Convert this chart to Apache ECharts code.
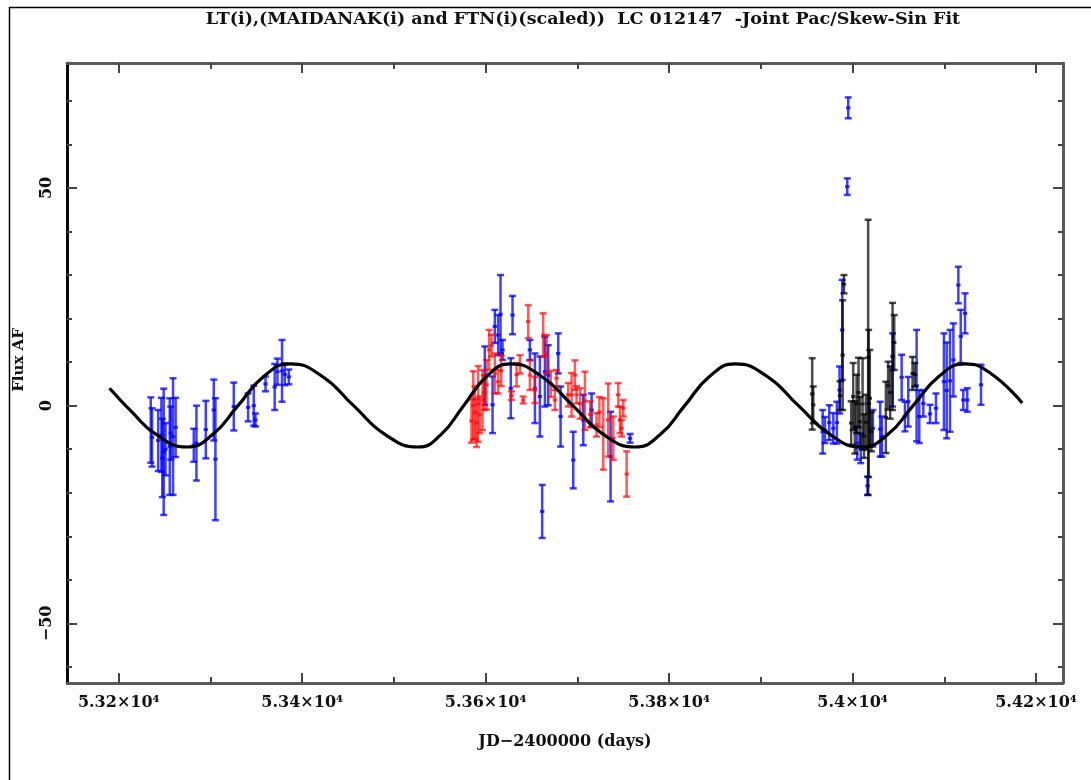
<!DOCTYPE html>
<html>
<head>
<meta charset="utf-8">
<script src="https://cdn.jsdelivr.net/npm/echarts@6/dist/echarts.min.js"></script>
<style>html,body{margin:0;padding:0;background:#fff}#c{width:1091px;height:780px}</style>
</head>
<body>
<div id="c"></div>
<script>
const titleText = 'LT(i),(MAIDANAK(i) and FTN(i)(scaled))  LC 012147  -Joint Pac/Skew-Sin Fit';
const xName = 'JD\u22122400000 (days)';
const yName = 'Flux AF';
const xMajorTicks = [53200, 53400, 53600, 53800, 54000, 54200];
const xMinorTicks = [53300, 53500, 53700, 53900, 54100];
const yMajorTicks = [-50, 0, 50];
const yMinorTicks = [-60, -40, -30, -20, -10, 10, 20, 30, 40, 60, 70];

// Fit curve [day, flux]
const fitDays = [53190, 53215, 53240, 53274, 53302, 53330, 53358, 53387, 53422, 53456, 53491, 53526,
  53551, 53576, 53601, 53627, 53661, 53695, 53729, 53763, 53790, 53817, 53844, 53872, 53907, 53941,
  53976, 54010, 54038, 54066, 54094, 54123, 54150, 54185];
const fitFlux = [4.0, -1.6, -6.5, -9.5, -6.7, 0.0, 6.7, 9.6, 6.7, 0.0, -6.7, -9.5,
  -6.7, 0.0, 6.7, 9.6, 6.7, 0.0, -6.7, -9.5, -6.7, 0.0, 6.7, 9.6, 6.7, 0.0,
  -6.7, -9.5, -6.7, 0.0, 6.7, 9.6, 7.5, 0.6];

// LT points [day, flux, error] (blue)
const ltPoints = [
  [53234.9, -5.6, 7.5], [53236.3, -7.3, 6.7], [53243.0, -8.0, 7.0], [53246.5, -6.7, 8.5],
  [53247.5, -12.0, 9.0], [53249.0, -10.6, 14.5], [53251.0, -10.0, 6.0], [53255.6, -9.4, 11.1],
  [53256.7, -6.3, 6.1], [53259.2, -7.1, 13.4], [53262.0, -5.0, 6.8], [53281.8, -9.1, 3.8],
  [53284.7, -8.6, 8.6], [53294.9, -5.5, 6.6], [53303.6, -1.0, 7.0], [53305.4, -12.3, 14.0],
  [53325.4, -0.2, 5.5], [53341.0, -0.4, 3.2], [53347.2, 0.0, 4.6], [53349.0, -3.3, 1.5],
  [53360.0, 5.0, 1.7], [53370.0, 4.3, 5.3], [53373.0, 7.8, 3.0], [53378.0, 8.0, 7.1],
  [53381.0, 7.2, 2.5], [53385.4, 6.6, 1.7],
  [53599.1, 6.9, 6.7], [53607.5, 0.2, 6.5], [53610.0, 18.2, 3.8], [53613.6, 16.2, 4.6],
  [53616.2, 21.0, 9.0], [53618.4, 12.8, 2.3], [53627.4, 4.0, 6.9], [53629.3, 20.8, 4.4],
  [53648.2, 12.8, 2.3], [53653.7, 4.0, 8.0], [53659.1, 2.1, 9.2], [53661.6, -24.3, 6.1],
  [53664.6, 7.8, 8.0], [53668.2, 7.0, 6.9], [53679.1, 12.0, 4.6], [53681.7, -2.5, 6.9],
  [53695.5, -12.5, 6.5], [53706.4, -3.3, 5.8], [53715.5, -1.0, 3.8], [53736.2, -11.7, 10.3],
  [53757.4, -7.5, 1.0],
  [53995.3, 68.4, 2.4], [53994.2, 50.3, 1.9],
  [53967.4, -6.0, 5.0], [53969.9, -5.6, 3.0], [53974.6, -3.9, 4.0], [53979.0, -5.2, 3.5],
  [53982.9, -3.9, 4.8], [53985.8, 3.6, 5.4], [53988.7, 17.4, 11.5], [54005.1, -8.6, 3.8],
  [54008.9, -9.8, 3.4], [54016.3, -18.4, 2.1], [54022.1, -5.2, 4.2], [54030.1, -5.4, 6.3],
  [54032.0, -7.1, 4.6], [54043.6, 8.2, 8.4], [54053.5, 6.5, 5.2], [54057.1, -2.5, 3.4],
  [54060.7, 0.9, 5.7], [54069.8, 4.6, 12.8], [54072.7, -2.5, 6.1], [54077.1, 0.5, 3.0],
  [54084.4, -1.9, 2.1], [54090.9, -0.6, 3.4], [54099.6, 5.5, 11.1], [54102.6, 3.5, 11.0],
  [54106.2, 5.7, 11.7], [54109.9, 10.5, 8.4], [54115.3, 27.7, 4.2], [54117.9, 15.9, 6.1],
  [54122.6, 21.2, 4.6], [54120.7, 1.3, 2.3], [54125.0, 1.3, 2.7], [54140.0, 4.8, 4.6]
];

// MAIDANAK points [day, flux, error] (red)
const maidanakPoints = [
  [53586.5, 0.0, 7.9], [53588.2, -1.6, 6.0], [53591.8, 0.4, 8.7], [53593.6, -2.1, 4.2],
  [53596.6, 1.3, 6.9], [53601.0, 4.8, 5.7], [53603.8, 12.8, 4.6], [53606.4, 13.8, 2.5],
  [53610.0, 7.4, 4.6], [53613.6, 5.5, 2.7], [53628.0, 2.3, 1.0], [53633.7, 7.1, 2.7],
  [53637.3, 9.5, 2.1], [53640.9, 1.3, 0.8], [53646.4, 19.3, 3.8], [53648.2, 7.0, 3.4],
  [53653.7, 3.6, 3.0], [53662.7, 16.2, 5.0], [53666.4, 11.8, 4.4], [53675.5, 1.3, 2.3],
  [53677.3, 6.3, 1.9], [53690.0, 2.5, 2.7], [53693.7, 2.5, 5.0], [53697.3, 7.0, 3.4],
  [53699.1, 2.5, 2.0], [53708.2, 1.1, 6.7], [53720.9, -4.4, 2.7], [53728.2, -6.5, 8.2],
  [53733.6, -3.3, 8.4], [53739.1, -7.5, 5.0], [53744.5, 2.5, 2.7], [53746.4, -3.3, 3.0],
  [53748.2, -5.2, 1.9], [53750.0, -0.6, 1.9], [53753.7, -15.7, 5.2],
  [53584.5, -3.5, 5.0], [53590.0, -4.0, 5.5], [53598.5, 3.0, 4.0], [53617.0, 8.0, 3.5],
  [53671.0, 5.0, 3.0], [53703.0, 0.5, 3.5], [53714.0, -2.0, 3.0], [53724.0, -1.5, 3.5]
];

// FTN points [day, flux, error] (black)
const ftnPoints = [
  [53956.0, 2.7, 8.2], [53957.1, 0.2, 4.2], [53986.3, 2.3, 3.3], [53989.2, 11.6, 12.6],
  [53990.6, 27.9, 2.1], [54000.7, 2.1, 7.7], [54004.4, 0.4, 6.7], [54008.0, -3.7, 5.7],
  [54010.9, 0.4, 10.5], [54014.5, -3.8, 6.3], [54017.0, 11.1, 31.6], [54017.5, 0.5, 16.9],
  [54018.8, 1.7, 11.1], [54036.3, -2.7, 8.2], [54038.8, 4.6, 5.5], [54043.6, 11.3, 12.3],
  [54045.4, 14.5, 6.3], [54065.4, 7.4, 3.8], [54067.9, 7.1, 2.7],
  [53998.5, -4.0, 5.0], [54002.5, -5.0, 6.0], [54006.5, 3.0, 8.0], [54012.5, -7.0, 5.0],
  [54020.5, -6.0, 4.5], [54041.0, 3.0, 6.0]
];

const fitData = fitDays.map((d, i) => [d, fitFlux[i]]);

function makeRender(color) {
  return function (params, api) {
    const x = api.value(0), y = api.value(1), e = api.value(2);
    const p1 = api.coord([x, y + e]), p2 = api.coord([x, y - e]), c = api.coord([x, y]);
    const hw = 3.5;
    return {
      type: 'group',
      children: [
        { type: 'line', shape: { x1: p1[0], y1: p1[1], x2: p2[0], y2: p2[1] }, style: { stroke: color, lineWidth: 2.5 } },
        { type: 'line', shape: { x1: p1[0] - hw, y1: p1[1], x2: p1[0] + hw, y2: p1[1] }, style: { stroke: color, lineWidth: 2.5 } },
        { type: 'line', shape: { x1: p2[0] - hw, y1: p2[1], x2: p2[0] + hw, y2: p2[1] }, style: { stroke: color, lineWidth: 2.5 } },
        { type: 'rect', shape: { x: c[0] - 2.2, y: c[1] - 1.5, width: 4.4, height: 3 }, style: { fill: color } }
      ]
    };
  };
}

const serif = 'DejaVu Serif';
const X_MIN = 53143.6, X_MAX = 54229.4, Y_MIN = -63.7, Y_MAX = 78.7;

function xAxisDef(pos, ticks, len, showLabel, lineColor) {
  return {
    type: 'value', position: pos, min: X_MIN, max: X_MAX,
    axisLine: { show: true, onZero: false, lineStyle: { color: lineColor, width: 2.5 } },
    axisTick: { show: true, inside: true, length: len, customValues: ticks, lineStyle: { color: '#444', width: 2 } },
    axisLabel: {
      show: showLabel, customValues: ticks, margin: 12,
      fontFamily: serif, fontSize: 16, fontWeight: 'bold', color: '#111',
      formatter: v => parseFloat((v / 1e4).toFixed(2)).toString() + '\u00d710\u2074'
    },
    splitLine: { show: false }
  };
}
function yAxisDef(pos, ticks, len, showLabel, lineColor) {
  return {
    type: 'value', position: pos, min: Y_MIN, max: Y_MAX,
    axisLine: { show: true, onZero: false, lineStyle: { color: lineColor, width: 2.5 } },
    axisTick: { show: true, inside: true, length: len, customValues: ticks, lineStyle: { color: '#444', width: 2 } },
    axisLabel: {
      show: showLabel, customValues: ticks, margin: 12, rotate: 90,
      fontFamily: serif, fontSize: 16, fontWeight: 'bold', color: '#111',
      formatter: v => (v < 0 ? '\u2212' + Math.abs(v) : String(v))
    },
    splitLine: { show: false }
  };
}

const xAxes = [
  xAxisDef('bottom', xMajorTicks, 10, true, '#555'),
  xAxisDef('bottom', xMinorTicks, 6, false, '#555'),
  xAxisDef('top', xMajorTicks, 10, false, '#555'),
  xAxisDef('top', xMinorTicks, 6, false, '#555')
];
xAxes[0].name = xName;
xAxes[0].nameLocation = 'middle';
xAxes[0].nameGap = 51;
xAxes[0].nameTextStyle = { fontFamily: serif, fontSize: 16, fontWeight: 'bold', color: '#111' };

const yAxes = [
  yAxisDef('left', yMajorTicks, 10, true, '#000'),
  yAxisDef('left', yMinorTicks, 5, false, '#000'),
  yAxisDef('right', yMajorTicks, 10, false, '#555'),
  yAxisDef('right', yMinorTicks, 5, false, '#555')
];

const chart = echarts.init(document.getElementById('c'), null, { renderer: 'canvas' });
chart.setOption({
  backgroundColor: '#fff',
  animation: false,
  grid: { left: 67, top: 63, right: 28, bottom: 97, containLabel: false },
  xAxis: xAxes,
  yAxis: yAxes,
  graphic: [
    { type: 'rect', shape: { x: 9.5, y: 7.5, width: 1200, height: 900 }, style: { fill: 'none', stroke: '#000', lineWidth: 1.5 }, silent: true, z: -10 },
    { type: 'text', x: 583, y: 19, style: { text: titleText, textAlign: 'center', textVerticalAlign: 'middle', font: 'bold 17.5px "DejaVu Serif"', fill: '#111' } },
    { type: 'text', x: 19, y: 360, rotation: Math.PI / 2, style: { text: yName, textAlign: 'center', textVerticalAlign: 'middle', font: 'bold 15px "DejaVu Serif"', fill: '#111' } }
  ],
  series: [
    { type: 'custom', name: 'LT', data: ltPoints, renderItem: makeRender('rgba(0,0,255,0.75)'), xAxisIndex: 0, yAxisIndex: 0, z: 2, clip: true },
    { type: 'custom', name: 'MAIDANAK', data: maidanakPoints, renderItem: makeRender('rgba(255,0,0,0.65)'), xAxisIndex: 0, yAxisIndex: 0, z: 3, clip: true },
    { type: 'custom', name: 'FTN', data: ftnPoints, renderItem: makeRender('rgba(0,0,0,0.7)'), xAxisIndex: 0, yAxisIndex: 0, z: 4, clip: true },
    { type: 'line', name: 'Fit', data: fitData, smooth: 0.5, showSymbol: false, symbol: 'none', xAxisIndex: 0, yAxisIndex: 0, z: 5,
      lineStyle: { color: '#000', width: 3.2 } }
  ]
});
</script>
</body>
</html>
